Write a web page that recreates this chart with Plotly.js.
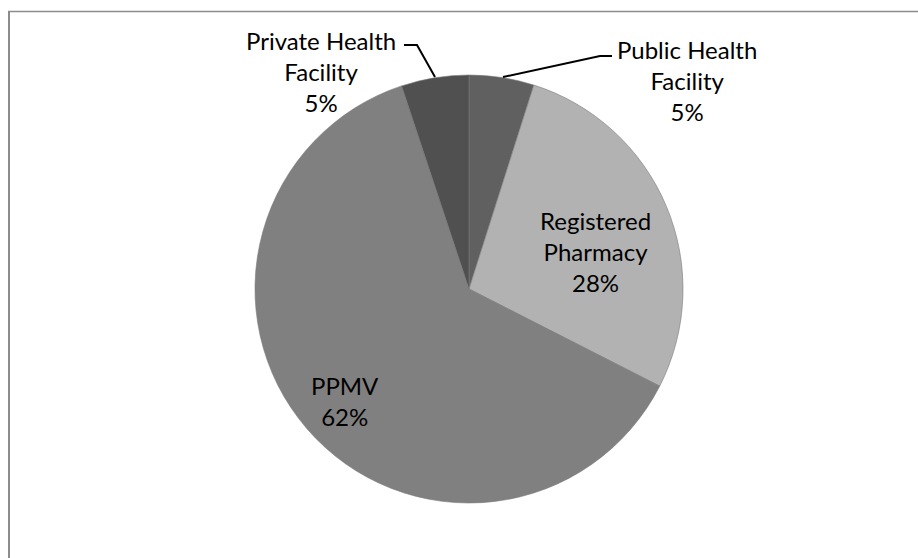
<!DOCTYPE html>
<html>
<head>
<meta charset="utf-8">
<script src="https://cdn.plot.ly/plotly-3.0.1.min.js"></script>
<style>
html,body{margin:0;padding:0;background:#fff;}
#chart{width:918px;height:558px;}
</style>
</head>
<body>
<div id="chart"></div>
<script>
// Data
const categories = ["Public Health Facility", "Registered Pharmacy", "PPMV", "Private Health Facility"];
const labelLines = ["Public Health<br>Facility", "Registered<br>Pharmacy", "PPMV", "Private Health<br>Facility"];
const values = [4.9, 27.6, 62.4, 5.1];
const colors = ["#606060", "#b2b2b2", "#808080", "#505050"];

// Layout geometry (pixels)
const W = 918, H = 558;
const cx = 469, cy = 289, R = 214;
const mL = cx - R, mR = W - (cx + R), mT = cy - R, mB = H - (cy + R);
const PW = 2 * R, PH = 2 * R;
const px = x => (x - mL) / PW;
const py = y => (mT + PH - y) / PH;

const total = values.reduce((a, b) => a + b, 0);
const pctText = values.map(v => Math.round(v / total * 100) + "%");

// label positions (centre of text block, px)
const labelPos = [[687, 81], [595, 252], [345, 401], [321, 71]];

const annotations = categories.map((c, i) => ({
  xref: "paper", yref: "paper",
  x: px(labelPos[i][0]), y: py(labelPos[i][1]),
  xanchor: "center", yanchor: "middle",
  text: labelLines[i] + "<br>" + pctText[i],
  showarrow: false,
  align: "center",
  font: {family: "Lato, 'Open Sans', sans-serif", size: 24, color: "#000"}
}));

const pathFrom = pts => pts.map((p, i) => (i ? "L" : "M") + px(p[0]) + "," + py(p[1])).join(" ");

const shapes = [
  // chart frame (left and top edges)
  {type: "line", xref: "paper", yref: "paper", x0: px(9), y0: py(11.5), x1: px(9), y1: py(H + 5),
   line: {color: "#8c8c8c", width: 2}},
  {type: "line", xref: "paper", yref: "paper", x0: px(8), y0: py(11.5), x1: px(W + 5), y1: py(11.5),
   line: {color: "#8c8c8c", width: 1.5}},
  // leader lines
  {type: "path", xref: "paper", yref: "paper", path: pathFrom([[404, 45], [417, 45], [435, 77]]),
   line: {color: "#000", width: 2}},
  {type: "path", xref: "paper", yref: "paper", path: pathFrom([[503, 77], [600, 56], [612, 56]]),
   line: {color: "#000", width: 2}}
];

const trace = {
  type: "pie",
  labels: categories,
  values: values,
  sort: false,
  direction: "clockwise",
  rotation: 0,
  marker: {colors: colors, line: {width: 0.6, color: "#7a7a7a"}},
  textinfo: "none",
  hoverinfo: "label+percent",
  showlegend: false
};

const layout = {
  width: W, height: H,
  margin: {l: mL, r: mR, t: mT, b: mB, pad: 0},
  paper_bgcolor: "#fff",
  plot_bgcolor: "#fff",
  showlegend: false,
  annotations: annotations,
  shapes: shapes
};

Plotly.newPlot("chart", [trace], layout, {displayModeBar: false, staticPlot: true});
</script>
</body>
</html>
